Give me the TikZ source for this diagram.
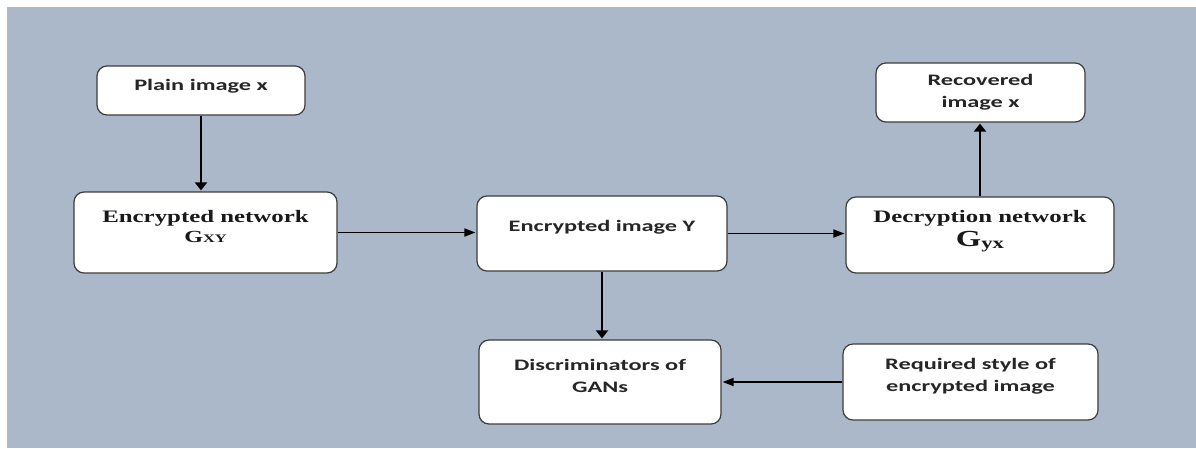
\documentclass[tikz,border=0pt]{standalone}
\usepackage{fontspec}
\usetikzlibrary{arrows.meta}
\newfontfamily\calfont[FakeStretch=1.52]{Carlito}
\newfontfamily\timesfont[FakeStretch=1.42]{Liberation Serif}
\definecolor{bgblue}{RGB}{171,184,202}
\definecolor{boxline}{RGB}{60,60,60}
\tikzset{
  box/.style={draw=boxline, line width=1.2pt, fill=white, rounded corners=10pt, inner sep=0pt},
  caltext/.style={font=\calfont\bfseries\fontsize{16}{22}\selectfont, align=center, inner sep=0pt, text=black!85},
  timtext/.style={font=\timesfont\bfseries\fontsize{17.5}{20}\selectfont, align=center, inner sep=0pt, text=black!90},
  vflow/.style={line width=2.6pt, -{Triangle[width=12pt,length=8pt]}, shorten >=1pt},
  hflow/.style={line width=1.7pt, -{Triangle[width=8pt,length=11pt]}, shorten >=1pt}
}
\begin{document}
\begin{tikzpicture}[x=1pt,y=-1pt]
\useasboundingbox (0,0) rectangle (1196,448);
\fill[bgblue] (7,7) rectangle (1196,448);
% boxes
\node[box, minimum width=208pt, minimum height=49pt] (plain) at (201,90.5) {};
\node[box, minimum width=263pt, minimum height=81pt] (encnet) at (205.5,232.5) {};
\node[box, minimum width=250pt, minimum height=75pt] (encimg) at (602,233.5) {};
\node[box, minimum width=209pt, minimum height=59pt] (recov) at (980.5,92.5) {};
\node[box, minimum width=268pt, minimum height=76pt] (decnet) at (980,235) {};
\node[box, minimum width=242pt, minimum height=84pt] (disc) at (600,382) {};
\node[box, minimum width=255pt, minimum height=76pt] (req) at (970.5,382) {};
% texts
\node[caltext, yshift=4pt] (plaint) at (plain.center) {Plain image x};
\node[timtext, yshift=6pt] (encnett) at (encnet.center) {Encrypted network\\{\fontsize{17}{20}\selectfont G}{\fontsize{11.5}{20}\selectfont XY}};
\node[caltext, yshift=6pt] (encimgt) at (encimg.center) {Encrypted image Y};
\node[caltext] (recovt) at (recov.center) {Recovered\\image x};
\node[timtext, yshift=4pt] (decnett) at (decnet.center) {Decryption network\\[4pt]{\fontsize{23}{20}\selectfont G}\raisebox{-2pt}{\fontsize{16}{20}\selectfont yx}};
\node[caltext, yshift=6pt] (disct) at (disc.center) {Discriminators of\\GANs};
\node[caltext, yshift=6pt] (reqt) at (req.center) {Required style of\\encrypted image};
% connectors
\draw[vflow] (plain.south) -- (plain.south |- encnet.north);
\draw[hflow] (encnet.east) -- (encnet.east -| encimg.west);
\draw[hflow] (encimg.east) -- (encimg.east -| decnet.west);
\draw[vflow] (decnet.north) -- (decnet.north |- recov.south);
\draw[vflow] (encimg.south) -- (encimg.south |- disc.north);
\draw[hflow] (req.west) -- (req.west -| disc.east);
\end{tikzpicture}
\end{document}
